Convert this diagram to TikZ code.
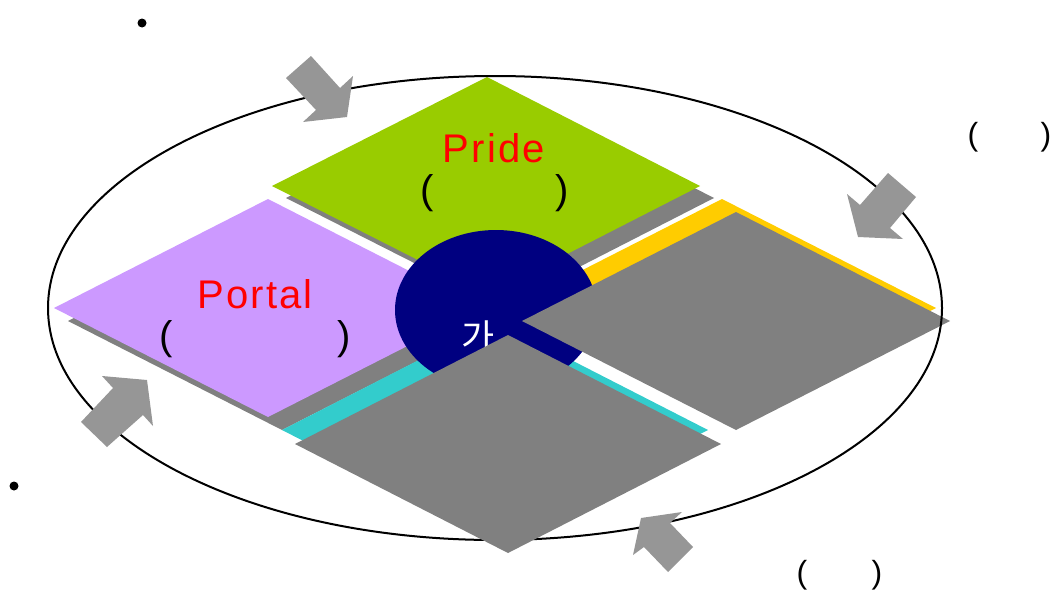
\documentclass[tikz,border=0pt]{standalone}
\usepackage{fontspec}
\setmainfont{Liberation Sans}
\newfontfamily\krfont{Noto Sans CJK KR}
\newfontfamily\wideface[LetterSpace=5.5]{Liberation Sans}
\definecolor{cgreen}{HTML}{99CC00}
\definecolor{cpurple}{HTML}{CC99FF}
\definecolor{cyellow}{HTML}{FFCC00}
\definecolor{ccyan}{HTML}{33CCCC}
\definecolor{cgray}{HTML}{808080}
\definecolor{cnavy}{HTML}{000080}
\definecolor{carrow}{HTML}{969696}
\begin{document}
\begin{tikzpicture}[x=1pt,y=-1pt,
  shade/.style={fill=cgray},
  blockarrow/.style={fill=carrow},
  bigred/.style={text=red,inner sep=0pt,anchor=base,font=\wideface\fontsize{40}{48}\selectfont},
  bigpar/.style={text=black,inner sep=0pt,anchor=base,font=\fontsize{40}{48}\selectfont},
  smallpar/.style={text=black,inner sep=0pt,anchor=base,font=\fontsize{32}{38}\selectfont},
  bullet/.style={circle,fill=black,inner sep=0pt,minimum size=9pt}]
\useasboundingbox (0,0) rectangle (1054,589);
% shadows of the top diamonds
\fill[shade] (272+14,186+12) -- (487+14,77+12) -- (700+14,186+12) -- (487+14,295+12) -- cycle;
\fill[shade] (54+14,308+13) -- (268+14,199+13) -- (482+14,308+13) -- (268+14,417+13) -- cycle;
% diamonds
\fill[cgreen] (272,186) -- (487,77) -- (700,186) -- (487,295) -- cycle;
\fill[cpurple] (54,308) -- (268,199) -- (482,308) -- (268,417) -- cycle;
\fill[cyellow] (508,308) -- (722,199) -- (936,308) -- (722,417) -- cycle;
\fill[ccyan] (282,430) -- (495,321) -- (708,430) -- (495,539) -- cycle;
% centre disc
\fill[cnavy] (496,310) ellipse [x radius=101, y radius=80];
\node[inner sep=0pt,text=white,font=\krfont\fontsize{36}{42}\selectfont] (ga) at (478,337) {가};
% gray top of yellow diamond
\fill[shade] (522,321) -- (736,212) -- (950,321) -- (736,430) -- cycle;
% outline ellipse
\draw[line width=2pt] (495,308) ellipse [x radius=447, y radius=232];
% gray top of cyan diamond
\fill[shade] (295,444) -- (508,335) -- (721,444) -- (508,553) -- cycle;
% block arrows
\fill[blockarrow] (286,78) -- (311,56) -- (340,88) -- (353,76) -- (347,117) -- (303,122) -- (316,110) -- cycle;
\fill[blockarrow] (888,173) -- (916,197) -- (890,228) -- (903,239) -- (858,237) -- (847,194) -- (860,205) -- cycle;
\fill[blockarrow] (81,422) -- (113,388) -- (102,376) -- (147,380) -- (153,426) -- (143,415) -- (107,447) -- cycle;
\fill[blockarrow] (693,547) -- (670,523) -- (682,512) -- (641,518) -- (633,555) -- (644,547) -- (668,572) -- cycle;
% texts
\node[bigred] (pride) at (494,162) {Pride};
\node[bigpar] (pridel) at (427,203) {(};
\node[bigpar] (prider) at (562,203) {)};
\node[bigred] (portal) at (255,308) {Portal};
\node[bigpar] (portall) at (166,349) {(};
\node[bigpar] (portalr) at (344,349) {)};
\node[smallpar] (rl) at (973,145) {(};
\node[smallpar] (rr) at (1046,145) {)};
\node[smallpar] (bl) at (802,583) {(};
\node[smallpar] (br) at (877,583) {)};
\node[bullet] (b1) at (142,23) {};
\node[bullet] (b2) at (14,486) {};
\end{tikzpicture}
\end{document}
